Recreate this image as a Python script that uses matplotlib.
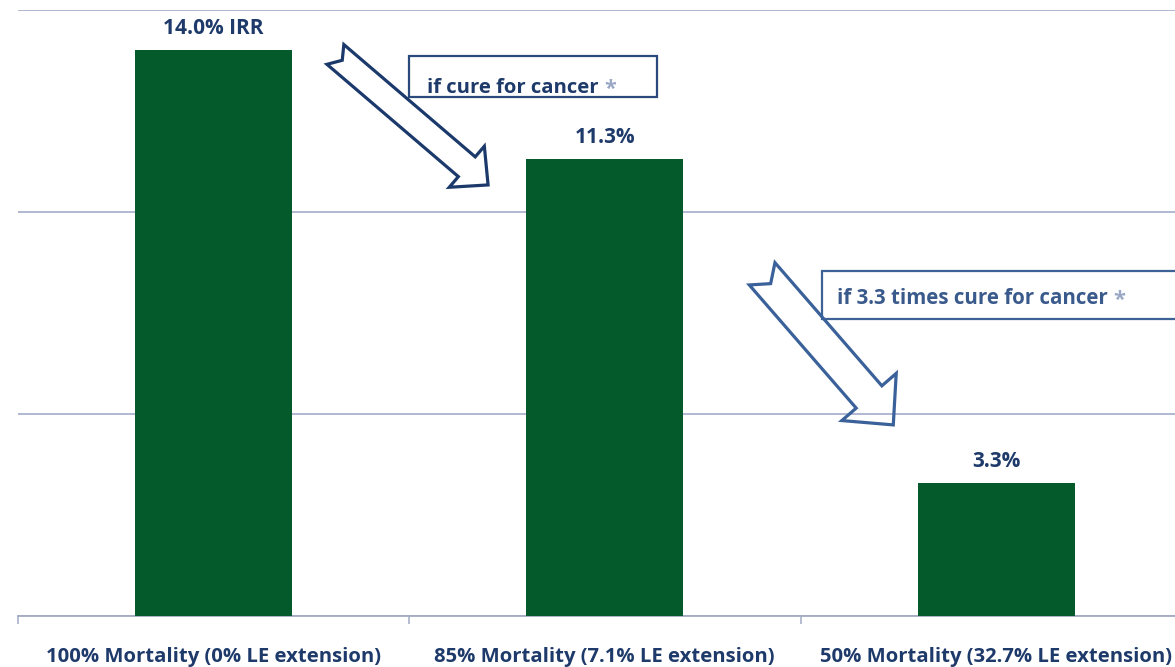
import numpy as np
import matplotlib
matplotlib.use('Agg')
import matplotlib.pyplot as plt
from matplotlib.patches import Polygon, Rectangle

# IRR under different mortality / life-expectancy scenarios
categories = ['100% Mortality (0% LE extension)',
              '85% Mortality (7.1% LE extension)',
              '50% Mortality (32.7% LE extension)']
irr = [14.0, 11.3, 3.3]
value_labels = ['14.0% IRR', '11.3%', '3.3%']
callouts = ['if cure for cancer', 'if 3.3 times cure for cancer']

green = '#045a2b'
navy = '#1e3a6a'
grid_col = '#aab3cf'

plt.rcParams['font.family'] = ['Open Sans', 'DejaVu Sans']

fig = plt.figure(figsize=(11.75, 6.67), dpi=100)
ax = fig.add_axes([17.5 / 1175, 51 / 667, 1174.5 / 1175, 606 / 667])

x = np.arange(len(categories))
ax.bar(x, irr, width=0.40, color=green, zorder=3)

ax.set_xlim(-0.5, 2.5)
ax.set_ylim(0, 15)

# horizontal grid, no y labels
ax.set_yticks([0, 5, 10, 15])
ax.set_yticklabels([])
ax.tick_params(axis='y', length=0)
ax.grid(axis='y', color=grid_col, lw=1.3, zorder=0)
ax.grid(axis='x', visible=False)

for s in ['left', 'right', 'top']:
    ax.spines[s].set_visible(False)
ax.spines['bottom'].set_color('#a3abc3')
ax.spines['bottom'].set_linewidth(1.3)

# boundary ticks between categories, labels centred on the bars
ax.set_xticks([-0.5, 0.5, 1.5, 2.5])
ax.set_xticklabels([])
ax.tick_params(axis='x', which='major', length=6, width=1.1, color='#a3abc3')
ax.set_xticks(x, minor=True)
ax.set_xticklabels(categories, minor=True, fontsize=14.6, fontweight='bold', color=navy)
ax.tick_params(axis='x', which='minor', length=0, pad=22.5)

for xi, v, lab in zip(x, irr, value_labels):
    ax.annotate(lab, (xi, v), xytext=(0, 8), textcoords='offset points',
                ha='center', va='bottom', fontsize=15, fontweight='bold', color=navy)


def hollow_arrow(ax, tail, tip, width, head_width, head_len, notch, color, lw=2.3):
    # notched block arrow outline, sizes given in pixels
    p0 = ax.transData.transform(tail)
    p1 = ax.transData.transform(tip)
    d = p1 - p0
    L = np.hypot(*d)
    u = d / L
    v = np.array([-u[1], u[0]])
    w, hw = width / 2, head_width / 2
    local = [(notch, 0), (0, w), (L - head_len, w), (L - head_len, hw), (L, 0),
             (L - head_len, -hw), (L - head_len, -w), (0, -w)]
    pts = np.array([p0 + a * u + b * v for a, b in local])
    pts = ax.transData.inverted().transform(pts)
    ax.add_patch(Polygon(pts, closed=True, fill=False, ec=color, lw=lw,
                         joinstyle='miter', clip_on=False, zorder=5))


def callout(ax, x0, x1, y0, y1, text, tx, ty, ec, tc, size):
    ax.add_patch(Rectangle((x0, y0), x1 - x0, y1 - y0, fc='white', ec=ec,
                           lw=1.6, clip_on=False, zorder=4))
    t = ax.text(tx, ty, text, fontsize=size, fontweight='bold', color=tc,
                va='baseline', ha='left', zorder=6)
    fig.canvas.draw()
    bb = t.get_window_extent()
    end = ax.transData.inverted().transform((bb.x1 + 5, bb.y0))
    ax.text(end[0], ty - 0.05, '*', fontsize=size + 1, fontweight='bold', color='#9aa8c6',
            va='baseline', ha='left', zorder=6)


callout(ax, 0.501, 1.134, 12.84, 13.86, callouts[0], 0.547, 12.95, '#2a4a7c', navy, 14.6)
callout(ax, 1.556, 2.6, 7.35, 8.54, callouts[1], 1.594, 7.72, '#3d6396', '#3a5a8c', 14.8)

hollow_arrow(ax, (0.312, 13.90), (0.702, 10.67), 26, 54, 28, 9, '#1b3a6b')
hollow_arrow(ax, (1.402, 8.47), (1.737, 4.73), 34, 72, 37, 13, '#3a6199')

fig.savefig('out.png', dpi=100)
